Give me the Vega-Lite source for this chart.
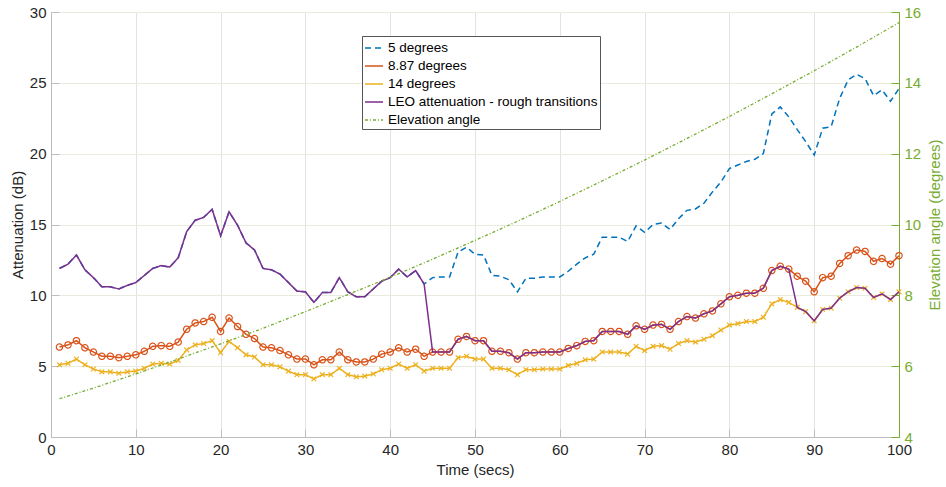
{
  "$schema": "https://vega.github.io/schema/vega-lite/v6.json",
  "width": 848,
  "height": 425,
  "autosize": {"type": "none"},
  "padding": {"left": 51, "top": 12, "right": 47, "bottom": 50},
  "background": "white",
  "config": {
    "font": "Liberation Sans",
    "view": {"stroke": "#bdbdbd", "strokeWidth": 1},
    "axis": {
      "labelFont": "Liberation Sans", "labelFontSize": 15, "labelColor": "#262626", "labelFlush": false,
      "titleFont": "Liberation Sans", "titleFontSize": 15, "titleFontWeight": "normal", "titleColor": "#262626",
      "domainColor": "#bdbdbd", "tickColor": "#bdbdbd", "tickSize": -8, "labelPadding": 13
    }
  },
  "data": {"values": [
    {"t":1,"a":11.9,"b":6.35,"c":5.1,"leo":11.9},
    {"t":2,"a":12.2,"b":6.5,"c":5.2,"leo":12.2},
    {"t":3,"a":12.85,"b":6.8,"c":5.5,"leo":12.85},
    {"t":4,"a":11.8,"b":6.3,"c":5.1,"leo":11.8},
    {"t":5,"a":11.25,"b":6.0,"c":4.8,"leo":11.25},
    {"t":6,"a":10.6,"b":5.7,"c":4.6,"leo":10.6},
    {"t":7,"a":10.6,"b":5.7,"c":4.6,"leo":10.6},
    {"t":8,"a":10.45,"b":5.6,"c":4.5,"leo":10.45},
    {"t":9,"a":10.7,"b":5.7,"c":4.6,"leo":10.7},
    {"t":10,"a":10.9,"b":5.8,"c":4.65,"leo":10.9},
    {"t":11,"a":11.4,"b":6.05,"c":4.85,"leo":11.4},
    {"t":12,"a":11.9,"b":6.4,"c":5.15,"leo":11.9},
    {"t":13,"a":12.1,"b":6.45,"c":5.2,"leo":12.1},
    {"t":14,"a":12.0,"b":6.4,"c":5.15,"leo":12.0},
    {"t":15,"a":12.65,"b":6.7,"c":5.4,"leo":12.65},
    {"t":16,"a":14.5,"b":7.6,"c":6.15,"leo":14.5},
    {"t":17,"a":15.3,"b":8.05,"c":6.5,"leo":15.3},
    {"t":18,"a":15.5,"b":8.15,"c":6.6,"leo":15.5},
    {"t":19,"a":16.07,"b":8.45,"c":6.8,"leo":16.07},
    {"t":20,"a":14.2,"b":7.45,"c":5.95,"leo":14.2},
    {"t":21,"a":15.9,"b":8.4,"c":6.75,"leo":15.9},
    {"t":22,"a":14.95,"b":7.8,"c":6.3,"leo":14.95},
    {"t":23,"a":13.7,"b":7.25,"c":5.8,"leo":13.7},
    {"t":24,"a":13.2,"b":6.95,"c":5.65,"leo":13.2},
    {"t":25,"a":11.9,"b":6.35,"c":5.1,"leo":11.9},
    {"t":26,"a":11.8,"b":6.3,"c":5.1,"leo":11.8},
    {"t":27,"a":11.5,"b":6.1,"c":4.95,"leo":11.5},
    {"t":28,"a":10.9,"b":5.8,"c":4.65,"leo":10.9},
    {"t":29,"a":10.3,"b":5.5,"c":4.4,"leo":10.3},
    {"t":30,"a":10.25,"b":5.5,"c":4.4,"leo":10.25},
    {"t":31,"a":9.5,"b":5.1,"c":4.1,"leo":9.5},
    {"t":32,"a":10.2,"b":5.45,"c":4.4,"leo":10.2},
    {"t":33,"a":10.2,"b":5.45,"c":4.4,"leo":10.2},
    {"t":34,"a":11.25,"b":6.0,"c":4.85,"leo":11.25},
    {"t":35,"a":10.25,"b":5.45,"c":4.4,"leo":10.25},
    {"t":36,"a":9.9,"b":5.3,"c":4.25,"leo":9.9},
    {"t":37,"a":9.9,"b":5.3,"c":4.3,"leo":9.9},
    {"t":38,"a":10.45,"b":5.5,"c":4.45,"leo":10.45},
    {"t":39,"a":11.0,"b":5.85,"c":4.75,"leo":11.0},
    {"t":40,"a":11.25,"b":6.0,"c":4.85,"leo":11.25},
    {"t":41,"a":11.85,"b":6.3,"c":5.15,"leo":11.85},
    {"t":42,"a":11.3,"b":6.0,"c":4.85,"leo":11.3},
    {"t":43,"a":11.75,"b":6.2,"c":5.1,"leo":11.75},
    {"t":44,"a":10.8,"b":5.7,"c":4.65,"leo":10.8},
    {"t":45,"a":11.25,"b":6.0,"c":4.85,"leo":6.0},
    {"t":46,"a":11.3,"b":6.0,"c":4.85,"leo":6.0},
    {"t":47,"a":11.3,"b":6.0,"c":4.85,"leo":6.0},
    {"t":48,"a":13.05,"b":6.9,"c":5.6,"leo":6.9},
    {"t":49,"a":13.4,"b":7.1,"c":5.7,"leo":7.1},
    {"t":50,"a":12.9,"b":6.8,"c":5.5,"leo":6.8},
    {"t":51,"a":12.85,"b":6.8,"c":5.5,"leo":6.8},
    {"t":52,"a":11.4,"b":6.05,"c":4.85,"leo":6.05},
    {"t":53,"a":11.35,"b":6.05,"c":4.85,"leo":6.05},
    {"t":54,"a":11.1,"b":5.95,"c":4.75,"leo":5.95},
    {"t":55,"a":10.25,"b":5.5,"c":4.4,"leo":5.5},
    {"t":56,"a":11.2,"b":5.95,"c":4.75,"leo":5.95},
    {"t":57,"a":11.2,"b":5.95,"c":4.75,"leo":5.95},
    {"t":58,"a":11.3,"b":6.0,"c":4.8,"leo":6.0},
    {"t":59,"a":11.3,"b":6.0,"c":4.8,"leo":6.0},
    {"t":60,"a":11.3,"b":6.0,"c":4.8,"leo":6.0},
    {"t":61,"a":11.7,"b":6.25,"c":5.05,"leo":6.25},
    {"t":62,"a":12.2,"b":6.45,"c":5.2,"leo":6.45},
    {"t":63,"a":12.65,"b":6.75,"c":5.45,"leo":6.75},
    {"t":64,"a":12.9,"b":6.8,"c":5.5,"leo":6.8},
    {"t":65,"a":14.1,"b":7.45,"c":6.0,"leo":7.45},
    {"t":66,"a":14.1,"b":7.45,"c":6.0,"leo":7.45},
    {"t":67,"a":14.1,"b":7.45,"c":6.0,"leo":7.45},
    {"t":68,"a":13.8,"b":7.25,"c":5.85,"leo":7.25},
    {"t":69,"a":14.9,"b":7.85,"c":6.4,"leo":7.85},
    {"t":70,"a":14.45,"b":7.6,"c":6.1,"leo":7.6},
    {"t":71,"a":15.0,"b":7.9,"c":6.4,"leo":7.9},
    {"t":72,"a":15.1,"b":7.95,"c":6.45,"leo":7.95},
    {"t":73,"a":14.65,"b":7.6,"c":6.2,"leo":7.6},
    {"t":74,"a":15.4,"b":8.15,"c":6.6,"leo":8.15},
    {"t":75,"a":16.0,"b":8.5,"c":6.8,"leo":8.5},
    {"t":76,"a":16.1,"b":8.4,"c":6.7,"leo":8.4},
    {"t":77,"a":16.5,"b":8.7,"c":6.9,"leo":8.7},
    {"t":78,"a":17.3,"b":8.9,"c":7.15,"leo":8.9},
    {"t":79,"a":18.0,"b":9.4,"c":7.55,"leo":9.4},
    {"t":80,"a":18.95,"b":9.9,"c":7.9,"leo":9.9},
    {"t":81,"a":19.2,"b":10.0,"c":8.0,"leo":10.0},
    {"t":82,"a":19.45,"b":10.15,"c":8.15,"leo":10.15},
    {"t":83,"a":19.6,"b":10.15,"c":8.15,"leo":10.15},
    {"t":84,"a":20.0,"b":10.5,"c":8.45,"leo":10.5},
    {"t":85,"a":22.8,"b":11.75,"c":9.4,"leo":11.75},
    {"t":86,"a":23.3,"b":12.05,"c":9.7,"leo":12.05},
    {"t":87,"a":22.6,"b":11.85,"c":9.5,"leo":11.85},
    {"t":88,"a":21.7,"b":11.35,"c":9.15,"leo":9.15},
    {"t":89,"a":20.85,"b":11.0,"c":8.85,"leo":8.85},
    {"t":90,"a":19.9,"b":10.25,"c":8.2,"leo":8.2},
    {"t":91,"a":21.8,"b":11.25,"c":9.0,"leo":9.0},
    {"t":92,"a":21.9,"b":11.35,"c":9.1,"leo":9.1},
    {"t":93,"a":23.9,"b":12.25,"c":9.8,"leo":9.8},
    {"t":94,"a":25.2,"b":12.8,"c":10.25,"leo":10.25},
    {"t":95,"a":25.6,"b":13.2,"c":10.55,"leo":10.55},
    {"t":96,"a":25.3,"b":13.1,"c":10.5,"leo":10.5},
    {"t":97,"a":24.1,"b":12.4,"c":9.85,"leo":9.85},
    {"t":98,"a":24.5,"b":12.6,"c":10.1,"leo":10.1},
    {"t":99,"a":23.7,"b":12.2,"c":9.7,"leo":9.7},
    {"t":100,"a":24.6,"b":12.8,"c":10.25,"leo":10.25}
  ]},
  "layer": [
    {
      "layer": [
        {
          "mark": {"type": "line", "strokeWidth": 1.5},
          "encoding": {
            "x": {"field": "t", "type": "quantitative", "scale": {"domain": [0, 100]},
                  "axis": {"values": [0,10,20,30,40,50,60,70,80,90,100], "grid": true, "gridColor": "#e3e3e3", "title": "Time (secs)", "titlePadding": 5}},
            "y": {"field": "a", "type": "quantitative", "scale": {"domain": [0, 30]}, "title": "Attenuation (dB)",
                  "axis": {"values": [0,5,10,15,20,25,30], "grid": false, "titlePadding": 4}},
            "color": {"datum": "5 degrees", "type": "nominal",
              "scale": {"domain": ["5 degrees","8.87 degrees","14 degrees","LEO attenuation - rough transitions","Elevation angle"],
                        "range": ["#0072BD","#D95319","#EDB120","#7E2F8E","#77AC30"]},
              "legend": {"title": null, "orient": "none", "legendX": 311, "legendY": 24, "symbolType": "stroke", "symbolSize": 324, "symbolStrokeWidth": 1.5, "labelFontSize": 13.5, "labelColor": "#000", "labelFont": "Liberation Sans", "labelLimit": 400, "fillColor": "#fff", "strokeColor": "#555", "padding": 2, "rowPadding": 1, "labelOffset": 4}},
            "strokeDash": {"datum": "5 degrees", "type": "nominal",
              "scale": {"domain": ["5 degrees","8.87 degrees","14 degrees","LEO attenuation - rough transitions","Elevation angle"],
                        "range": [[6,4],[1,0],[1,0],[1,0],[3,2,1,2]]},
              "legend": {"title": null, "orient": "none", "legendX": 311, "legendY": 24, "symbolType": "stroke", "symbolSize": 324, "symbolStrokeWidth": 1.5, "labelFontSize": 13.5, "labelColor": "#000", "labelFont": "Liberation Sans", "labelLimit": 400, "fillColor": "#fff", "strokeColor": "#555", "padding": 2, "rowPadding": 1, "labelOffset": 4}}
          }
        },
        {
          "mark": {"type": "line", "strokeWidth": 1.5, "point": {"filled": false, "shape": "circle", "size": 40, "strokeWidth": 1.2}},
          "encoding": {
            "x": {"field": "t", "type": "quantitative"},
            "y": {"field": "b", "type": "quantitative", "title": "Attenuation (dB)"},
            "color": {"datum": "8.87 degrees", "type": "nominal"},
            "strokeDash": {"datum": "8.87 degrees", "type": "nominal"}
          }
        },
        {
          "mark": {"type": "line", "strokeWidth": 1.5, "point": {"filled": false, "shape": "M-1,-1L1,1M1,-1L-1,1", "size": 22, "strokeWidth": 1.2}},
          "encoding": {
            "x": {"field": "t", "type": "quantitative"},
            "y": {"field": "c", "type": "quantitative", "title": "Attenuation (dB)"},
            "color": {"datum": "14 degrees", "type": "nominal"},
            "strokeDash": {"datum": "14 degrees", "type": "nominal"}
          }
        },
        {
          "mark": {"type": "line", "strokeWidth": 1.5},
          "encoding": {
            "x": {"field": "t", "type": "quantitative"},
            "y": {"field": "leo", "type": "quantitative", "title": "Attenuation (dB)"},
            "color": {"datum": "LEO attenuation - rough transitions", "type": "nominal"},
            "strokeDash": {"datum": "LEO attenuation - rough transitions", "type": "nominal"}
          }
        }
      ]
    },
    {
      "data": {"values": [
        {"t":1,"e":5.08},{"t":5,"e":5.38},{"t":10,"e":5.78},{"t":15,"e":6.2},{"t":20,"e":6.63},
        {"t":25,"e":7.07},{"t":30,"e":7.54},{"t":35,"e":8.02},{"t":40,"e":8.51},{"t":45,"e":9.02},
        {"t":50,"e":9.55},{"t":55,"e":10.09},{"t":60,"e":10.65},{"t":65,"e":11.23},{"t":70,"e":11.82},
        {"t":75,"e":12.43},{"t":80,"e":13.05},{"t":85,"e":13.69},{"t":90,"e":14.34},{"t":95,"e":15.01},{"t":100,"e":15.7}
      ]},
      "mark": {"type": "line", "strokeWidth": 1.3},
      "encoding": {
        "x": {"field": "t", "type": "quantitative"},
        "y": {"field": "e", "type": "quantitative", "scale": {"domain": [4, 16]},
              "axis": {"orient": "right", "values": [4,6,8,10,12,14,16], "grid": true, "gridColor": "#e9ecdc",
                       "labelColor": "#77AC30", "titleColor": "#77AC30", "domainColor": "#77AC30", "tickColor": "#77AC30",
                       "title": "Elevation angle (degrees)", "titleAngle": 270, "titlePadding": 22}},
        "color": {"datum": "Elevation angle", "type": "nominal"},
        "strokeDash": {"datum": "Elevation angle", "type": "nominal"}
      }
    }
  ],
  "resolve": {"scale": {"y": "independent"}}
}
